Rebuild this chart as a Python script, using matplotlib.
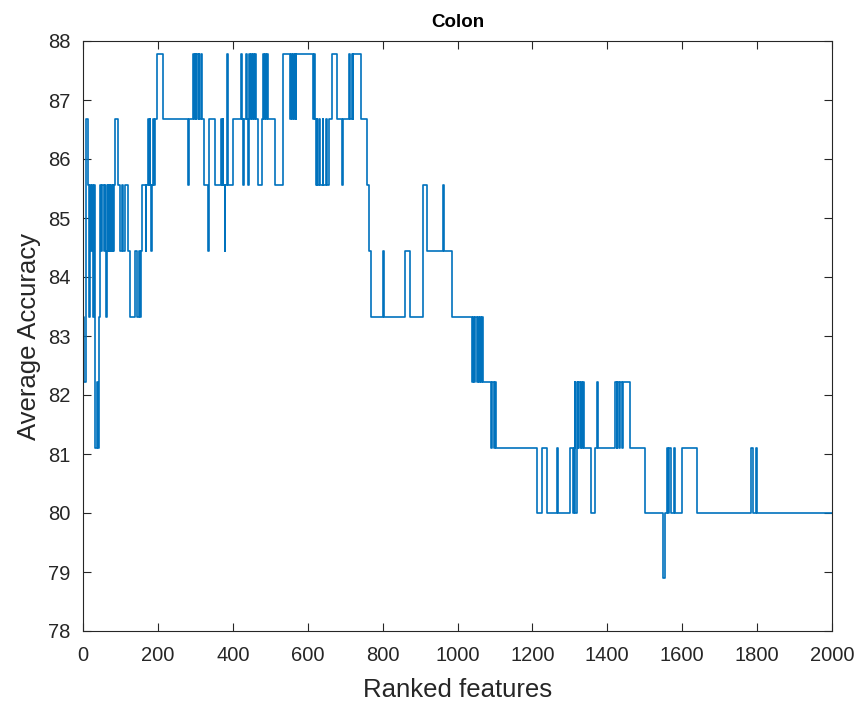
import numpy as np
import matplotlib
matplotlib.use("Agg")
import matplotlib.pyplot as plt

# step data: number of ranked features where the accuracy changes, and the new accuracy
change_at = [0, 1, 4, 8, 14, 17, 19, 22, 24, 27, 29, 31, 33, 37, 40, 44, 46, 49, 52, 55,
             58, 61, 62, 64, 66, 68, 71, 73, 75, 77, 79, 81, 83, 86, 93, 100, 104, 106, 111, 120,
             126, 140, 143, 150, 152, 155, 157, 167, 169, 174, 176, 178, 180, 182, 185, 188, 190, 192, 198, 213,
             281, 284, 293, 296, 298, 301, 303, 306, 309, 311, 315, 317, 323, 333, 337, 352, 369, 371, 373, 375,
             378, 380, 384, 387, 400, 421, 424, 427, 430, 434, 437, 440, 442, 445, 448, 451, 454, 457, 460, 462,
             466, 479, 481, 484, 487, 489, 491, 493, 513, 535, 553, 555, 558, 560, 563, 565, 568, 570, 613, 616,
             619, 622, 624, 626, 629, 633, 640, 642, 649, 652, 658, 664, 677, 692, 694, 711, 714, 717, 720, 722,
             741, 759, 765, 768, 802, 805, 860, 873, 909, 918, 962, 965, 985, 1040, 1042, 1045, 1048, 1052, 1055, 1058,
             1061, 1064, 1066, 1069, 1090, 1093, 1097, 1100, 1103, 1213, 1225, 1238, 1265, 1268, 1300, 1308, 1311, 1313, 1315, 1318,
             1321, 1323, 1326, 1329, 1332, 1335, 1338, 1356, 1368, 1373, 1376, 1420, 1425, 1427, 1432, 1434, 1440, 1442, 1460, 1500,
             1550, 1553, 1560, 1563, 1566, 1569, 1578, 1581, 1600, 1640, 1785, 1788, 1797, 1800]
accuracy = [80.00, 83.33, 82.22, 86.67, 85.56, 83.33, 85.56, 84.44, 85.56, 83.33, 85.56, 84.44, 81.11, 82.22, 81.11, 83.33, 85.56, 84.44, 85.56, 84.44,
            85.56, 84.44, 83.33, 84.44, 85.56, 84.44, 85.56, 84.44, 85.56, 84.44, 85.56, 84.44, 85.56, 86.67, 85.56, 84.44, 85.56, 84.44, 85.56, 84.44,
            83.33, 84.44, 83.33, 84.44, 83.33, 84.44, 85.56, 84.44, 85.56, 86.67, 85.56, 86.67, 85.56, 84.44, 85.56, 86.67, 85.56, 86.67, 87.78, 86.67,
            85.56, 86.67, 87.78, 86.67, 87.78, 86.67, 87.78, 86.67, 87.78, 86.67, 87.78, 86.67, 85.56, 84.44, 86.67, 85.56, 86.67, 85.56, 86.67, 85.56,
            84.44, 85.56, 87.78, 85.56, 86.67, 87.78, 86.67, 85.56, 86.67, 87.78, 86.67, 85.56, 87.78, 86.67, 87.78, 86.67, 87.78, 86.67, 87.78, 86.67,
            85.56, 86.67, 87.78, 86.67, 87.78, 86.67, 87.78, 86.67, 85.56, 87.78, 86.67, 87.78, 86.67, 87.78, 86.67, 87.78, 86.67, 87.78, 86.67, 87.78,
            86.67, 85.56, 86.67, 85.56, 86.67, 85.56, 86.67, 85.56, 86.67, 85.56, 86.67, 87.78, 86.67, 85.56, 86.67, 87.78, 86.67, 87.78, 86.67, 87.78,
            86.67, 85.56, 84.44, 83.33, 84.44, 83.33, 84.44, 83.33, 85.56, 84.44, 85.56, 84.44, 83.33, 82.22, 83.33, 82.22, 83.33, 82.22, 83.33, 82.22,
            83.33, 82.22, 83.33, 82.22, 81.11, 82.22, 81.11, 82.22, 81.11, 80.00, 81.11, 80.00, 81.11, 80.00, 81.11, 80.00, 81.11, 82.22, 80.00, 82.22,
            81.11, 82.22, 81.11, 82.22, 81.11, 82.22, 81.11, 80.00, 81.11, 82.22, 81.11, 82.22, 81.11, 82.22, 81.11, 82.22, 81.11, 82.22, 81.11, 80.00,
            78.89, 80.00, 81.11, 80.00, 81.11, 80.00, 81.11, 80.00, 81.11, 80.00, 81.11, 80.00, 81.11, 80.00]
n_features = 2000

plt.rcParams['font.family'] = ['Liberation Sans', 'DejaVu Sans']
dark = '#262626'

fig = plt.figure(figsize=(8.62, 7.08), dpi=100)
ax = fig.add_axes([83/862, 1 - 631/708, 749/862, 590/708])

xs = change_at + [n_features]
ys = accuracy + [accuracy[-1]]
ax.step(xs, ys, where='post', color='#0072BD', lw=1.2)

ax.set_xlim(0, 2000)
ax.set_ylim(78, 88)
ax.set_xticks(np.arange(0, 2001, 200))
ax.set_yticks(np.arange(78, 89, 1))
ax.tick_params(direction='in', length=6, width=0.8, colors=dark, labelsize=14.5,
               top=True, right=True)
ax.tick_params(axis='x', pad=11)
ax.tick_params(axis='y', pad=9)
for s in ax.spines.values():
    s.set_color(dark)
    s.set_linewidth(0.8)

ax.set_xlabel('Ranked features', fontsize=18.5, color=dark, labelpad=9)
ax.set_ylabel('Average Accuracy', fontsize=18.5, color=dark, labelpad=5)
ax.set_title('Colon', fontsize=13.5, fontweight='bold', color='black', pad=10)

fig.savefig('out.png', dpi=100)
